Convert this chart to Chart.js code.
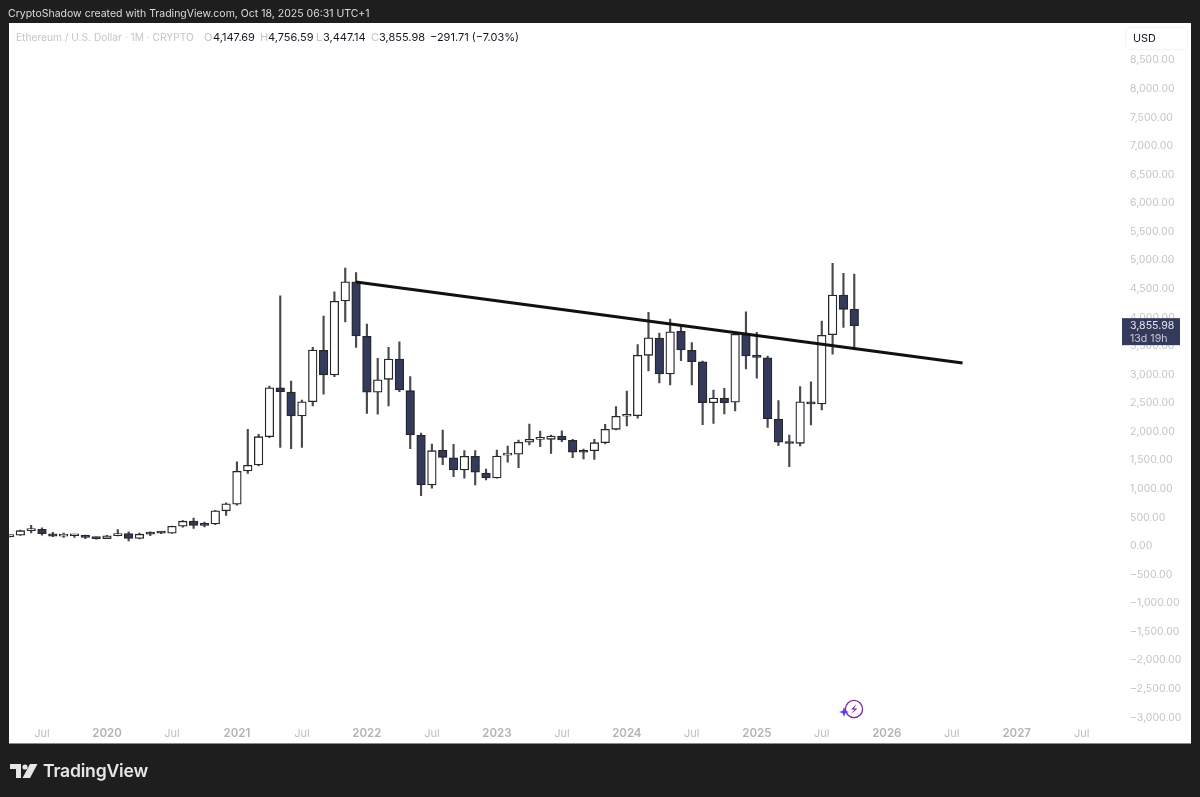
<!DOCTYPE html>
<html>
<head>
<meta charset="utf-8">
<title>Ethereum / U.S. Dollar</title>
<script src="https://cdn.jsdelivr.net/npm/chart.js@4/dist/chart.umd.min.js"></script>
<style>
html, body { margin:0; padding:0; background:#1e1e1e; width:1200px; height:797px; overflow:hidden; font-family:Inter, "Noto Sans", sans-serif; }
#panel { position:absolute; left:9px; top:23px; width:1182px; height:720px; background:#fff; border-bottom:1px solid #8a8a8a; }
#chartBox { position:absolute; left:0; top:0; width:1200px; height:797px; }
.txt { position:absolute; white-space:pre; }
#head { left:8px; top:7px; font-size:10.5px; line-height:14px; color:#dcdcdc; }
#info { left:15px; top:30px; font-size:11px; line-height:14px; color:#131722; }
#info span { position:absolute; top:0; }
#info .m { color:#c3c5ca; }
#info .title { font-size:10.2px; left:1px; }
#usd { left:1125px; top:27px; width:54px; height:21px; padding-left:7px; border:1px solid #f3f3f3; border-radius:5px; font-size:10.8px; line-height:21px; color:#131722; }
#logoText { left:43px; top:759px; font-size:17.6px; line-height:24px; font-weight:600; color:#e6e6e6; letter-spacing:-0.2px; }
svg { position:absolute; }
</style>
</head>
<body>
<div id="panel"></div>
<div id="chartBox"><canvas id="chart" width="1200" height="797"></canvas></div>
<div class="txt" id="head">CryptoShadow created with TradingView.com, Oct 18, 2025 06:31 UTC+1</div>
<div class="txt" id="info">
<span class="m title">Ethereum / U.S. Dollar · 1M · CRYPTO</span>
<span class="m" style="left:189px">O</span><span style="left:198px">4,147.69</span>
<span class="m" style="left:245px">H</span><span style="left:253px">4,756.59</span>
<span class="m" style="left:301px">L</span><span style="left:308px">3,447.14</span>
<span class="m" style="left:356px">C</span><span style="left:364px">3,855.98</span>
<span style="left:415px">−291.71 (−7.03%)</span>
</div>
<div class="txt" id="usd">USD</div>
<svg style="left:10px;top:764px" width="28" height="15" viewBox="0 0 28 15">
<path d="M0 0H11V14H6V5H0Z" fill="#e6e6e6"/><circle cx="15" cy="3" r="2.6" fill="#e6e6e6"/><path d="M20 0H27.5L20 14H12.5Z" fill="#e6e6e6"/>
</svg>
<div class="txt" id="logoText">TradingView</div>
<svg style="left:839px;top:698px" width="26" height="24" viewBox="0 0 26 24">
<circle cx="15" cy="11" r="8.6" fill="none" stroke="#7b2a9e" stroke-width="1.3"/>
<path d="M17.5 6L12 11.5H15.5L12 16L18.5 10.5H15Z" fill="#7b2a9e"/>
<path d="M5 9L6.3 12.7L10 14L6.3 15.3L5 19L3.7 15.3L0 14L3.7 12.7Z" fill="#5f3df0"/>
</svg>
<script>
var months = [
  'Apr 2019','May 2019','Jun 2019','Jul 2019','Aug 2019','Sep 2019','Oct 2019','Nov 2019','Dec 2019',
  'Jan 2020','Feb 2020','Mar 2020','Apr 2020','May 2020','Jun 2020','Jul 2020','Aug 2020','Sep 2020','Oct 2020','Nov 2020','Dec 2020',
  'Jan 2021','Feb 2021','Mar 2021','Apr 2021','May 2021','Jun 2021','Jul 2021','Aug 2021','Sep 2021','Oct 2021','Nov 2021','Dec 2021',
  'Jan 2022','Feb 2022','Mar 2022','Apr 2022','May 2022','Jun 2022','Jul 2022','Aug 2022','Sep 2022','Oct 2022','Nov 2022','Dec 2022',
  'Jan 2023','Feb 2023','Mar 2023','Apr 2023','May 2023','Jun 2023','Jul 2023','Aug 2023','Sep 2023','Oct 2023','Nov 2023','Dec 2023',
  'Jan 2024','Feb 2024','Mar 2024','Apr 2024','May 2024','Jun 2024','Jul 2024','Aug 2024','Sep 2024','Oct 2024','Nov 2024','Dec 2024',
  'Jan 2025','Feb 2025','Mar 2025','Apr 2025','May 2025','Jun 2025','Jul 2025','Aug 2025','Sep 2025','Oct 2025','Nov 2025','Dec 2025',
  'Jan 2026','Feb 2026','Mar 2026','Apr 2026','May 2026','Jun 2026','Jul 2026','Aug 2026','Sep 2026','Oct 2026','Nov 2026','Dec 2026',
  'Jan 2027','Feb 2027','Mar 2027','Apr 2027','May 2027','Jun 2027','Jul 2027','Aug 2027','Sep 2027','Oct 2027'
];

var opens = [
  165,190,268,292,215,172,180,182,152,
  130,180,218,133,231,231,225,346,434,386,386,616,
  730,1312,1417,1913,2770,2695,2275,2525,3425,2993,4287,4625,
  3670,2690,2917,3272,2718,1937,1067,1675,1545,1330,1570,1277,
  1190,1590,1605,1815,1867,1867,1925,1850,1668,1668,1808,2042,
  2270,2280,3337,3640,3010,3757,3425,3225,2508,2590,2515,3705,
  3330,3295,2222,1815,1797,2525,2485,3698,4392,4147.69
];
var closes = [
  190,268,285,215,170,180,182,152,130,
  180,218,133,207,207,225,346,434,360,360,616,737,
  1307,1412,1913,2770,2700,2275,2525,3430,2993,4282,4625,3675,
  2690,2910,3272,2730,1943,1067,1668,1552,1330,1570,1290,1190,
  1575,1605,1815,1867,1875,1925,1855,1640,1640,1808,2042,2270,
  2283,3337,3645,3010,3750,3430,3225,2508,2590,2508,3705,3325,
  3300,2228,1815,1793,2525,2485,3687,4392,4142,3855.98
];
var highs = [
  200,280,360,320,239,224,198,190,155,
  185,288,250,228,250,250,350,445,488,420,625,755,
  1475,2040,1954,2800,4380,2887,2555,3477,4025,4450,4865,4783,
  3885,3285,3477,3575,2963,1977,1785,2030,1780,1668,1668,1347,
  1680,1750,1855,2135,2012,1942,2017,1867,1698,1867,2130,2438,
  2712,3523,4090,3727,3972,3850,3558,3237,2730,2760,3727,4100,
  3740,3325,2543,1942,2788,2875,3937,4947,4772,4756.59
];
var lows = [
  150,185,230,190,165,152,150,130,120,
  127,175,90,125,180,215,222,330,308,335,372,535,
  715,1272,1400,1895,1727,1703,1727,2450,2655,2963,3920,3477,
  2322,2305,2450,2700,1703,880,1010,1423,1213,1185,1067,1155,
  1185,1465,1370,1767,1738,1622,1825,1545,1522,1517,1785,2030,
  2100,2235,3062,2852,2817,3243,2817,2123,2147,2310,2362,3097,
  2935,2077,1755,1388,1750,2117,2380,3355,3827,3447.14
];
var trendLine = [{x:'Dec 2021', y:4620}, {x:'Aug 2026', y:3202}];
var priceTicks = [8500,8000,7500,7000,6500,6000,5500,5000,4500,4000,3500,3000,2500,2000,1500,1000,500,0,-500,-1000,-1500,-2000,-2500,-3000];

var darkBody = '#343a5c';
var edge = '#26262b';

function isDown(i) { return closes[i] < opens[i]; }

var priceTag = {
  id:'priceTag',
  afterDraw:function(chart) {
    var c = chart.ctx;
    var y = chart.scales.y.getPixelForValue(closes[closes.length-1]);
    c.save();
    c.fillStyle = darkBody;
    c.fillRect(1122, y-7.5, 58, 27);
    c.fillStyle = '#e4e6ee';
    c.font = '10.6px Inter';
    c.textBaseline = 'middle';
    c.fillText('3,855.98', 1130, y);
    c.fillStyle = '#c9ccd8';
    c.fillText('13d 19h', 1130, y+13);
    c.restore();
  }
};

new Chart(document.getElementById('chart').getContext('2d'), {
  type:'bar',
  data:{
    labels:months,
    datasets:[
      {
        type:'line',
        data:trendLine,
        borderColor:'#111111',
        borderWidth:3,
        pointRadius:0,
        order:0
      },
      {
        data:opens.map(function(o,i){ return [o, closes[i]]; }),
        backgroundColor:function(ctx){ return isDown(ctx.dataIndex) ? darkBody : '#ffffff'; },
        borderColor:edge,
        borderWidth:1.3,
        borderSkipped:false,
        barThickness:8.6,
        minBarLength:2,
        grouped:false,
        order:1
      },
      {
        data:lows.map(function(l,i){ return [l, highs[i]]; }),
        backgroundColor:'#4a4a4e',
        barThickness:1.5,
        grouped:false,
        order:2
      }
    ]
  },
  options:{
    responsive:false,
    animation:false,
    devicePixelRatio:1,
    layout:{padding:{left:9.5, top:23, right:0, bottom:54}},
    plugins:{legend:{display:false}, tooltip:{enabled:false}},
    scales:{
      x:{
        type:'category',
        offset:false,
        grid:{display:false},
        border:{display:false},
        afterBuildTicks:function(scale) {
          scale.ticks = scale.ticks.filter(function(t){ return /^(Jan|Jul)/.test(months[t.value]); });
        },
        afterFit:function(scale){ scale.height = 23; },
        ticks:{
          autoSkip:false,
          maxRotation:0,
          padding:-1,
          color:function(ctx){ return /^\d/.test(ctx.tick.label) ? '#b2b3b7' : '#bdbec2'; },
          font:function(ctx){ return /^\d/.test(ctx.tick.label) ? {family:'Inter', size:11.5, weight:'600'} : {family:'Inter', size:11}; },
          callback:function(v){
            var m = months[v];
            return m.indexOf('Jan') === 0 ? m.slice(4) : 'Jul';
          }
        }
      },
      y:{
        position:'right',
        min:-3045,
        max:9152.5,
        grid:{display:false},
        border:{display:false},
        afterBuildTicks:function(scale) {
          scale.ticks = priceTicks.map(function(v){ return {value:v}; });
        },
        afterFit:function(scale){ scale.width = 85.8; },
        ticks:{
          padding:7.8,
          color:'#c4c5c9',
          font:{family:'Inter', size:10.5},
          callback:function(v){
            var s = Math.abs(v).toLocaleString('en-US', {minimumFractionDigits:2, maximumFractionDigits:2});
            return (v < 0 ? '−' : '') + s;
          }
        }
      }
    }
  },
  plugins:[priceTag]
});
</script>
</body>
</html>
